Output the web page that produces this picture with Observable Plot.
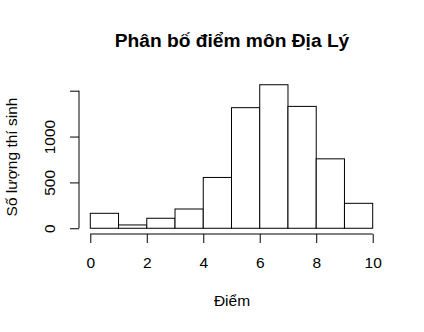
<!DOCTYPE html>
<html>
<head>
<meta charset="utf-8">
<script src="https://cdn.jsdelivr.net/npm/d3@7"></script>
<script src="https://cdn.jsdelivr.net/npm/@observablehq/plot@0.6"></script>
<style>
  html, body { margin: 0; padding: 0; background: #fff; }
  #chart svg { display: block; }
</style>
</head>
<body>
<div id="chart"></div>
<script>
const titleText = "Phân bố điểm môn Địa Lý";
const xLabel = "Điểm";
const yLabel = "Số lượng thí sinh";
const binStarts = [0, 1, 2, 3, 4, 5, 6, 7, 8, 9];
const binWidth = 1;
const counts = [163, 36, 109, 210, 554, 1315, 1565, 1329, 757, 272];
const xTicks = [0, 2, 4, 6, 8, 10];
const yTicks = [0, 500, 1000, 1500];
const yTickLabels = ["0", "500", "1000", ""];

const bins = binStarts.map((s, i) => ({x1: s, x2: s + binWidth, count: counts[i]}));
const xMin = binStarts[0], xMax = binStarts[binStarts.length - 1] + binWidth;
const yMax = d3.max(counts);
const xPad = (xMax - xMin) * 0.04, yPad = yMax * 0.04;
const xDomain = [xMin - xPad, xMax + xPad];
const yDomain = [-yPad, yMax + yPad];

const font = "Liberation Sans, Arial, Helvetica, sans-serif";
const fs = 15.5;

const chart = Plot.plot({
  width: 424,
  height: 332,
  marginLeft: 79,
  marginRight: 40,
  marginTop: 79,
  marginBottom: 98,
  style: {background: "#fff", color: "#000", fontFamily: font, fontSize: fs + "px"},
  x: {domain: xDomain, axis: null},
  y: {domain: yDomain, axis: null},
  marks: [
    Plot.rect(bins, {x1: "x1", x2: "x2", y1: 0, y2: "count", fill: "#fff", stroke: "#000", strokeWidth: 1}),
    // x axis
    Plot.ruleY([yDomain[0]], {x1: xTicks[0], x2: xTicks[xTicks.length - 1], stroke: "#000", strokeWidth: 1, dy: -0.5}),
    Plot.axisX({ticks: xTicks, tickSize: 9, tickPadding: 13, fontSize: fs, label: null, stroke: "#000", strokeOpacity: 1}),
    // y axis
    Plot.ruleX([xDomain[0]], {y1: yTicks[0], y2: yTicks[yTicks.length - 1], stroke: "#000", strokeWidth: 1, dx: -0.5}),
    Plot.axisY({ticks: yTicks, tickSize: 9, tickFormat: () => "", label: null, stroke: "#000", strokeOpacity: 1}),
    Plot.text(yTicks, {y: d => d, text: (d, i) => yTickLabels[i], frameAnchor: "left", dx: -29, rotate: -90, textAnchor: "middle", lineAnchor: "middle", fontSize: fs, fill: "#000"}),
    // labels
    Plot.text([titleText], {text: d => d, frameAnchor: "top", dy: -39, fontSize: 19.2, fontWeight: "bold", fill: "#000", textAnchor: "middle", lineAnchor: "middle"}),
    Plot.text([xLabel], {text: d => d, frameAnchor: "bottom", dy: 67, fontSize: fs, fill: "#000", textAnchor: "middle", lineAnchor: "middle"}),
    Plot.text([yLabel], {text: d => d, frameAnchor: "left", dx: -67, rotate: -90, fontSize: fs, fill: "#000", textAnchor: "middle", lineAnchor: "middle"})
  ]
});
document.getElementById("chart").appendChild(chart);
</script>
</body>
</html>
